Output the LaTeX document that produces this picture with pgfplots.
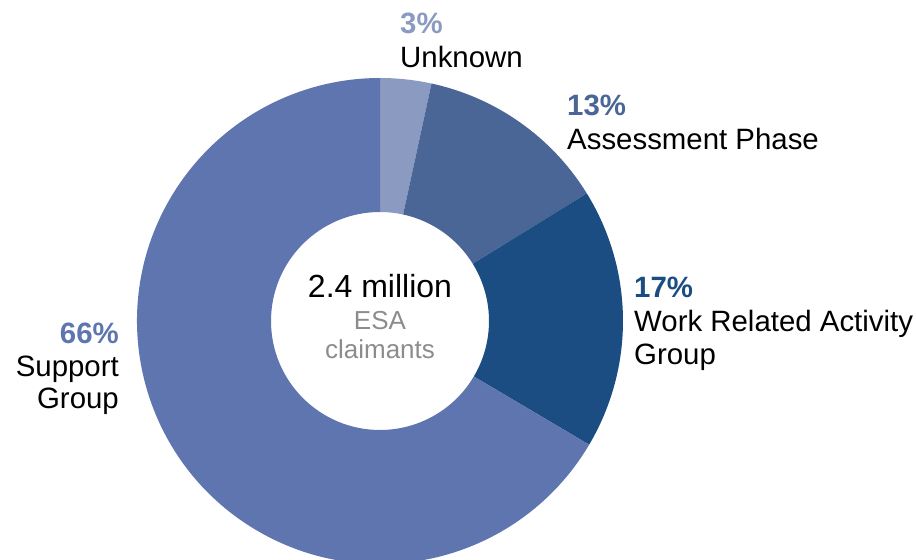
\documentclass[border=0pt]{standalone}
\usepackage{pgfplots}
\pgfplotsset{compat=1.18}
\usepackage{fontspec}
\setmainfont{Liberation Sans}

\definecolor{cunk}{HTML}{8B9AC1}
\definecolor{cass}{HTML}{4A6697}
\definecolor{cwrag}{HTML}{1B4D83}
\definecolor{csup}{HTML}{5F75AF}
\definecolor{cgrey}{HTML}{8C8C8C}

% ring radii (axis units = pt)
\newcommand\ro{243}
\newcommand\rw{134}
\newcommand\ri{109}
% ring slice from cumulative percent #1 to #2, colour #3
\newcommand\slice[3]{%
  \fill[#3] (axis cs:380,238) ++({90-3.6*#1}:\ro pt)
    arc[start angle={90-3.6*#1}, end angle={90-3.6*#2}, radius=\ro pt]
    -- ++({270-3.6*#2}:\rw pt)
    arc[start angle={90-3.6*#2}, end angle={90-3.6*#1}, radius=\ri pt] -- cycle;}

\newcommand\lab{\fontsize{29.4}{34}\selectfont}
\newcommand\pct{\fontsize{29.4}{34}\selectfont\bfseries}

\begin{document}
\begin{tikzpicture}
\begin{axis}[x=1pt, y=1pt, xmin=0, xmax=917, ymin=0, ymax=559,
  hide axis, scale only axis]
  % shares: Unknown 3.4, Assessment 12.8, WRAG 17.3, Support 66.5
  \slice{0}{3.4}{cunk}
  \slice{3.4}{16.2}{cass}
  \slice{16.2}{33.5}{cwrag}
  \slice{33.5}{100}{csup}

  \node[anchor=base west, inner sep=0, font=\pct, text=cunk] at (axis cs:400,525) {3\%};
  \node[anchor=base west, inner sep=0, font=\lab] at (axis cs:400,491) {Unknown};
  \node[anchor=base west, inner sep=0, font=\pct, text=cass] at (axis cs:567,443) {13\%};
  \node[anchor=base west, inner sep=0, font=\lab] at (axis cs:567,409) {Assessment Phase};
  \node[anchor=base west, inner sep=0, font=\pct, text=cwrag] at (axis cs:634,261) {17\%};
  \node[anchor=base west, inner sep=0, font=\lab] at (axis cs:634,227) {Work Related Activity};
  \node[anchor=base west, inner sep=0, font=\lab] at (axis cs:634,194) {Group};
  \node[anchor=base east, inner sep=0, font=\pct, text=csup] at (axis cs:119,215) {66\%};
  \node[anchor=base east, inner sep=0, font=\lab] at (axis cs:119,182) {Support};
  \node[anchor=base east, inner sep=0, font=\lab] at (axis cs:119,150) {Group};

  \node[anchor=base, inner sep=0, font=\fontsize{32}{38}\selectfont] at (axis cs:380,261) {2.4 million};
  \node[anchor=base, inner sep=0, font=\fontsize{26}{31}\selectfont, text=cgrey] at (axis cs:380,229) {ESA};
  \node[anchor=base, inner sep=0, font=\fontsize{26}{31}\selectfont, text=cgrey] at (axis cs:380,200) {claimants};
\end{axis}
\pgfresetboundingbox
\path (current axis.south west) rectangle (current axis.north east);
\end{tikzpicture}
\end{document}
